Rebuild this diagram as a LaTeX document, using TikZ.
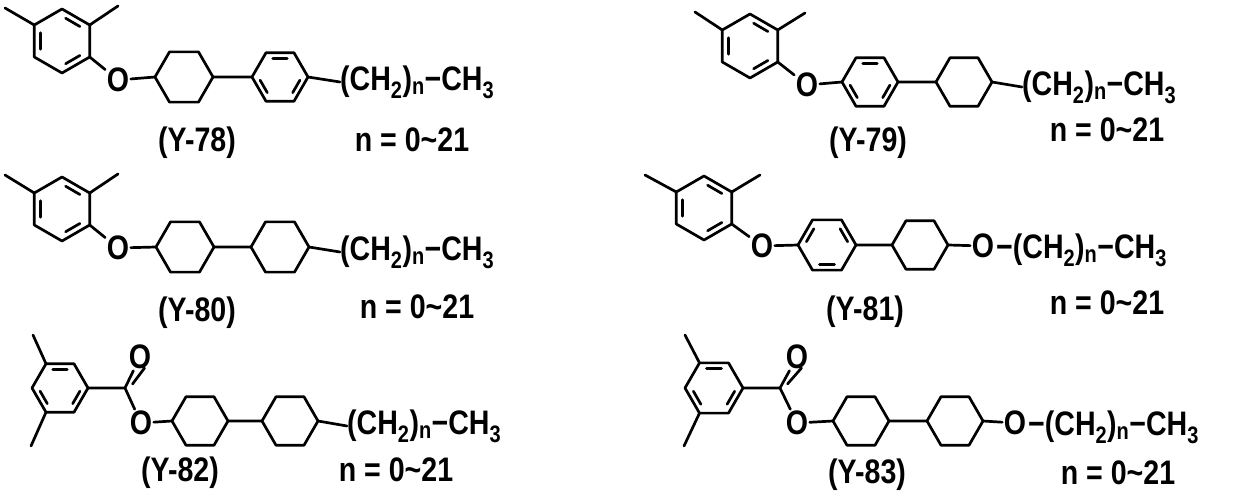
\documentclass[tikz,border=0pt]{standalone}
\usepackage{fontspec}
\usepackage{graphicx}
\setmainfont{Liberation Sans}
\usetikzlibrary{calc}

% ring of six bonds, vertices named (#1-1) ... (#1-6)
\newcommand{\hexring}[4]{%
  \foreach \k in {1,...,6}{\coordinate (#1-\k) at ($#2+(#4+60*\k-60:#3)$);}
  \draw[bond] (#1-1) -- (#1-2) -- (#1-3) -- (#1-4) -- (#1-5) -- (#1-6) -- cycle;}
% inner lines of an aromatic ring
\newcommand{\arom}[3]{%
  \foreach \a in {#3}{\draw[bond] ($#1+(\a+9:0.72*#2)$) -- ($#1+(\a+51:0.72*#2)$);}}
% narrow text
\newcommand{\cond}[1]{\scalebox{0.84}[1]{#1}}
\newcommand{\alkyl}{\cond{(CH\textsubscript{2})\textsubscript{n}−CH\textsubscript{3}}}
\newcommand{\nrange}{\cond{n = 0\textasciitilde 21}}

\begin{document}
\begin{tikzpicture}[x=1pt, y=-1pt,
  bond/.style={line width=2.7, line cap=round, line join=round},
  atom/.style={font=\fontsize{34}{34}\selectfont\bfseries, inner sep=1.5pt},
  chain/.style={atom, anchor=west, inner sep=0pt},
  tag/.style={font=\fontsize{34}{34}\selectfont\bfseries, inner sep=0pt}]
  \useasboundingbox (0,0) rectangle (1258,502);

  %% Y-78
  \hexring{a}{(62,41)}{32}{30}
  \arom{(62,41)}{32}{30,150,270}
  \coordinate (am1) at (5,8);
  \coordinate (am2) at (118,6);
  \draw[bond] (a-4) -- (am1) (a-6) -- (am2);
  \node[atom] (ao) at (118,80) {\cond{O}};
  \hexring{b}{(184,77)}{29}{0}
  \hexring{c}{(280,77)}{28}{0}
  \arom{(280,77)}{28}{0,120,240}
  \node[chain] (ach) at (340,82) {\alkyl};
  \draw[bond] (a-1) -- (ao) -- (b-4) (b-1) -- (c-4) (c-1) -- (ach.west);
  \node[tag] (al) at (197,143) {\cond{(Y-78)}};
  \node[tag] (an) at (412,140) {\nrange};

  %% Y-79
  \hexring{d}{(750,46)}{32}{30}
  \arom{(750,46)}{32}{30,150,270}
  \coordinate (dm1) at (695,12);
  \coordinate (dm2) at (805,13);
  \draw[bond] (d-4) -- (dm1) (d-6) -- (dm2);
  \node[atom] (do) at (807,85) {\cond{O}};
  \hexring{e}{(870,82)}{28}{0}
  \arom{(870,82)}{28}{0,120,240}
  \hexring{f}{(964,82)}{28}{0}
  \node[chain] (dch) at (1022,87) {\alkyl};
  \draw[bond] (d-1) -- (do) -- (e-4) (e-1) -- (f-4) (f-1) -- (dch.west);
  \node[tag] (dl) at (868,143) {\cond{(Y-79)}};
  \node[tag] (dn) at (1107,130) {\nrange};

  %% Y-80
  \hexring{g}{(62,209)}{32}{30}
  \arom{(62,209)}{32}{30,150,270}
  \coordinate (gm1) at (5,175);
  \coordinate (gm2) at (118,174);
  \draw[bond] (g-4) -- (gm1) (g-6) -- (gm2);
  \node[atom] (go) at (118,248) {\cond{O}};
  \hexring{h}{(185,247)}{29}{0}
  \hexring{i}{(280,247)}{29}{0}
  \node[chain] (gch) at (340,252) {\alkyl};
  \draw[bond] (g-1) -- (go) -- (h-4) (h-1) -- (i-4) (i-1) -- (gch.west);
  \node[tag] (gl) at (197,313) {\cond{(Y-80)}};
  \node[tag] (gn) at (417,307) {\nrange};

  %% Y-81
  \hexring{j}{(704,208)}{32}{30}
  \arom{(704,208)}{32}{30,150,270}
  \coordinate (jm1) at (645,175);
  \coordinate (jm2) at (760,175);
  \draw[bond] (j-4) -- (jm1) (j-6) -- (jm2);
  \node[atom] (jo) at (762,246) {\cond{O}};
  \hexring{k}{(827,245)}{29}{0}
  \arom{(827,245)}{29}{60,180,300}
  \hexring{l}{(920,245)}{28}{0}
  \node[atom] (jo2) at (983,246) {\cond{O}};
  \node[chain] (jch) at (996,250) {\cond{−}\alkyl};
  \draw[bond] (j-1) -- (jo) -- (k-4) (k-1) -- (l-4) (l-1) -- (jo2);
  \node[tag] (jl) at (865,312) {\cond{(Y-81)}};
  \node[tag] (jn) at (1107,303) {\nrange};

  %% Y-82
  \hexring{m}{(60,388)}{28}{0}
  \arom{(60,388)}{28}{0,120,240}
  \coordinate (mm1) at (33,335);
  \coordinate (mm2) at (31,446);
  \draw[bond] (m-5) -- (mm1) (m-3) -- (mm2);
  \coordinate (mc) at (125,388);
  \node[atom] (mo1) at (140,357) {\cond{O}};
  \node[atom] (mo2) at (141,423) {\cond{O}};
  \draw[bond] (m-1) -- (mc) -- (mo1) (mc) -- (mo2);
  \draw[bond] ($(mc)+(7.5,-4)$) -- ($(mo1)+(4.5,11)$);
  \hexring{n}{(200,421)}{28}{0}
  \hexring{o}{(290,421)}{28}{0}
  \node[chain] (mch) at (347,426) {\alkyl};
  \draw[bond] (mo2) -- (n-4) (n-1) -- (o-4) (o-1) -- (mch.west);
  \node[tag] (ml) at (180,473) {\cond{(Y-82)}};
  \node[tag] (mn) at (396,470) {\nrange};

  %% Y-83
  \hexring{p}{(714,388)}{29}{0}
  \arom{(714,388)}{29}{0,120,240}
  \coordinate (pm1) at (685,335);
  \coordinate (pm2) at (684,446);
  \draw[bond] (p-5) -- (pm1) (p-3) -- (pm2);
  \coordinate (pc) at (780,388);
  \node[atom] (po1) at (797,357) {\cond{O}};
  \node[atom] (po2) at (797,423) {\cond{O}};
  \draw[bond] (p-1) -- (pc) -- (po1) (pc) -- (po2);
  \draw[bond] ($(pc)+(7.5,-4)$) -- ($(po1)+(4.5,11)$);
  \hexring{q}{(861,421)}{28}{0}
  \hexring{r}{(955,421)}{28}{0}
  \node[atom] (po3) at (1015,423) {\cond{O}};
  \node[chain] (pch) at (1028,427) {\cond{−}\alkyl};
  \draw[bond] (po2) -- (q-4) (q-1) -- (r-4) (r-1) -- (po3);
  \node[tag] (pl) at (867,475) {\cond{(Y-83)}};
  \node[tag] (pn) at (1118,473) {\nrange};
\end{tikzpicture}
\end{document}
